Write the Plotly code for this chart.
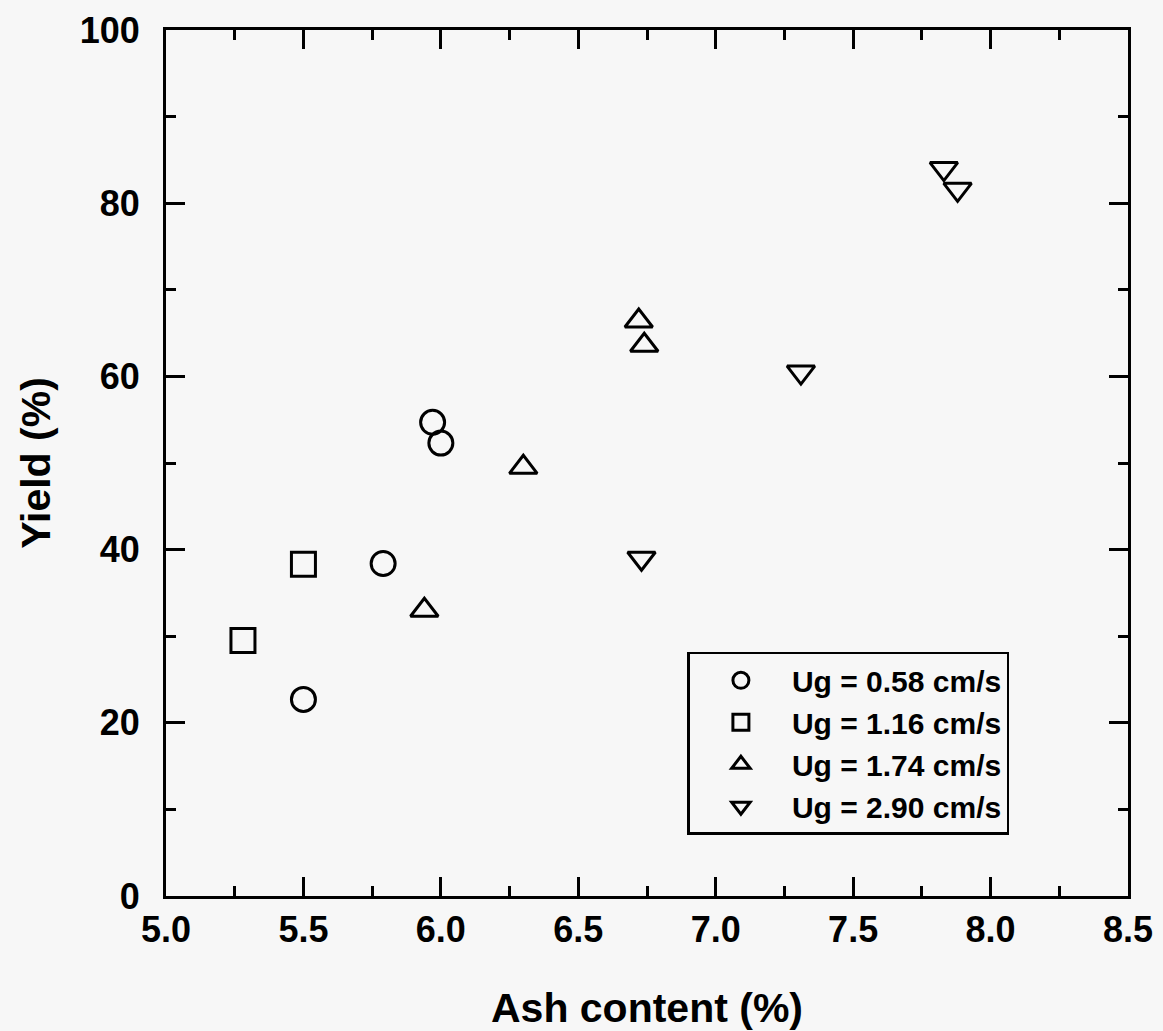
import plotly.graph_objects as go

# Data
x_058 = [5.97, 6.00, 5.79, 5.50]
y_058 = [54.7, 52.3, 38.4, 22.7]
x_116 = [5.50, 5.28]
y_116 = [38.3, 29.5]
x_174 = [5.94, 6.72, 6.74, 6.30]
y_174 = [33.0, 66.4, 63.6, 49.5]
x_290 = [7.31, 6.73, 7.83, 7.88]
y_290 = [60.5, 39.0, 84.0, 81.6]

names = ["Ug = 0.58 cm/s", "Ug = 1.16 cm/s", "Ug = 1.74 cm/s", "Ug = 2.90 cm/s"]
symbols = ["circle-open", "square-open", "triangle-up-open", "triangle-down-open"]
xs = [x_058, x_116, x_174, x_290]
ys = [y_058, y_116, y_174, y_290]

x_ticks = [5.0, 5.5, 6.0, 6.5, 7.0, 7.5, 8.0, 8.5]
x_ticklabels = ["5.0", "5.5", "6.0", "6.5", "7.0", "7.5", "8.0", "8.5"]
y_ticks = [0, 20, 40, 60, 80, 100]

FONT = "Liberation Sans, Arial, sans-serif"
BG = "#f7f7f7"

fig = go.Figure()
for i in range(4):
    fig.add_trace(go.Scatter(
        x=xs[i], y=ys[i], mode="markers", name=names[i],
        marker=dict(symbol=symbols[i], size=24, color="black",
                    line=dict(width=3, color="black")),
    ))

axis_common = dict(
    showline=True, linecolor="black", linewidth=3, mirror="ticks",
    ticks="inside", ticklen=19, tickwidth=2.5, tickcolor="black",
    showgrid=False, zeroline=False, automargin=False,
    tickfont=dict(family=FONT, size=36, color="black", weight="bold"),
)

fig.update_xaxes(
    range=[5.0, 8.5], tickvals=x_ticks, ticktext=x_ticklabels,
    minor=dict(ticks="inside", ticklen=10, tickwidth=2.5, tickcolor="black", dtick=0.25, tick0=5.0),
    title=dict(text="Ash content (%)", font=dict(family=FONT, size=41, color="black", weight="bold"), standoff=50),
    ticklabelstandoff=0,
    **axis_common,
)
fig.update_yaxes(
    range=[0, 100], tickvals=y_ticks,
    minor=dict(ticks="inside", ticklen=10, tickwidth=2.5, tickcolor="black", dtick=10, tick0=0),
    title=dict(text="Yield (%)", font=dict(family=FONT, size=41, color="black", weight="bold"), standoff=17),
    ticklabelstandoff=16,
    **axis_common,
)

fig.update_layout(
    width=1163, height=1031,
    margin=dict(l=166, r=35, t=30, b=135, autoexpand=False),
    paper_bgcolor=BG, plot_bgcolor=BG,
    showlegend=True,
    legend=dict(
        x=0.542, y=0.282, xanchor="left", yanchor="top",
        bgcolor=BG, bordercolor="black", borderwidth=2.5,
        font=dict(family=FONT, size=30, color="black", weight="bold"),
        itemwidth=92,
    ),
)

fig.write_html("out.html", config={"displayModeBar": False},
               post_script="document.body.style.margin='0';document.body.style.background='%s';" % BG)
